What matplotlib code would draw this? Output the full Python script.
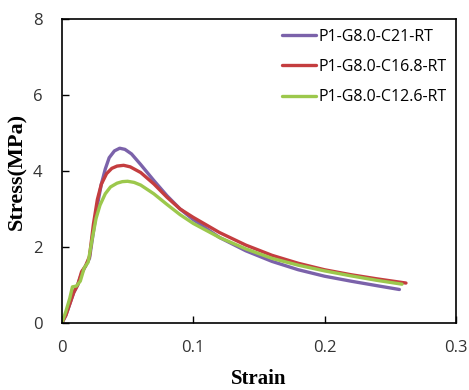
import matplotlib
matplotlib.use("Agg")
import matplotlib.pyplot as plt

# C21 curve
strain_c21 = [0, 0.003, 0.006, 0.009, 0.012, 0.015, 0.018, 0.021, 0.024, 0.027, 0.030,
              0.033, 0.036, 0.040, 0.044, 0.048, 0.053, 0.06, 0.07, 0.08, 0.09, 0.10,
              0.12, 0.14, 0.16, 0.18, 0.20, 0.22, 0.24, 0.257]
stress_c21 = [0, 0.2, 0.5, 0.8, 1.0, 1.3, 1.5, 1.7, 2.4, 3.1, 3.65,
              4.05, 4.35, 4.53, 4.6, 4.57, 4.45, 4.17, 3.75, 3.35, 3.0, 2.72,
              2.25, 1.9, 1.62, 1.4, 1.23, 1.1, 0.98, 0.88]

# C16.8 curve
strain_c168 = [0, 0.003, 0.006, 0.009, 0.012, 0.015, 0.018, 0.021, 0.024, 0.027, 0.030,
               0.034, 0.038, 0.042, 0.047, 0.052, 0.06, 0.07, 0.08, 0.09, 0.10,
               0.12, 0.14, 0.16, 0.18, 0.20, 0.22, 0.24, 0.262]
stress_c168 = [0, 0.2, 0.5, 0.8, 1.0, 1.35, 1.5, 1.75, 2.6, 3.25, 3.65,
               3.93, 4.07, 4.13, 4.15, 4.11, 3.96, 3.66, 3.31, 3.0, 2.78,
               2.38, 2.05, 1.78, 1.57, 1.4, 1.27, 1.16, 1.05]

# C12.6 curve
strain_c126 = [0, 0.003, 0.006, 0.008, 0.011, 0.014, 0.017, 0.020, 0.023, 0.026, 0.029,
               0.033, 0.037, 0.042, 0.046, 0.050, 0.055, 0.06, 0.07, 0.08, 0.09, 0.10,
               0.12, 0.14, 0.16, 0.18, 0.20, 0.22, 0.24, 0.259]
stress_c126 = [0, 0.3, 0.65, 0.95, 0.97, 1.1, 1.45, 1.6, 2.2, 2.75, 3.1,
               3.4, 3.58, 3.68, 3.72, 3.73, 3.7, 3.63, 3.4, 3.12, 2.85, 2.62,
               2.25, 1.95, 1.7, 1.52, 1.37, 1.24, 1.12, 1.02]

labels = ['P1-G8.0-C21-RT', 'P1-G8.0-C16.8-RT', 'P1-G8.0-C12.6-RT']
colors = ['#7b62aa', '#c43d3f', '#9cc84c']

x_ticks = [0, 0.1, 0.2, 0.3]
x_tick_labels = ['0', '0.1', '0.2', '0.3']
y_ticks = [0, 2, 4, 6, 8]

fig = plt.figure(figsize=(4.69, 3.9), dpi=100)
ax = fig.add_axes([0.132, 0.172, 0.840, 0.779])

curves = [(strain_c21, stress_c21), (strain_c168, stress_c168), (strain_c126, stress_c126)]
for (xs, ys), lab, col in zip(curves, labels, colors):
    ax.plot(xs, ys, color=col, lw=2.4, label=lab, solid_capstyle='round')

ax.set_xlim(0, 0.3)
ax.set_ylim(0, 8)
ax.set_xticks(x_ticks)
ax.set_xticklabels(x_tick_labels)
ax.set_yticks(y_ticks)
ax.tick_params(direction='in', length=5, width=1, top=False, right=False,
               labelsize=12, labelcolor='#333333')
ax.tick_params(axis='x', pad=12)
ax.tick_params(axis='y', pad=14)
for lab in ax.get_xticklabels() + ax.get_yticklabels():
    lab.set_family('Open Sans')
for sp in ax.spines.values():
    sp.set_linewidth(1.2)

ax.set_xlabel('Strain', family='Liberation Serif', fontweight='bold', fontsize=15, labelpad=10)
ax.set_ylabel('Stress(MPa)', family='Liberation Serif', fontweight='bold', fontsize=16, labelpad=4)

ax.legend(loc='upper right', frameon=False, prop={'family': 'Open Sans', 'size': 11.5},
          handlelength=2.1, handletextpad=0.15, labelspacing=0.9,
          borderaxespad=0.2, bbox_to_anchor=(1.0, 1.0))

fig.savefig('out.png', dpi=100)
